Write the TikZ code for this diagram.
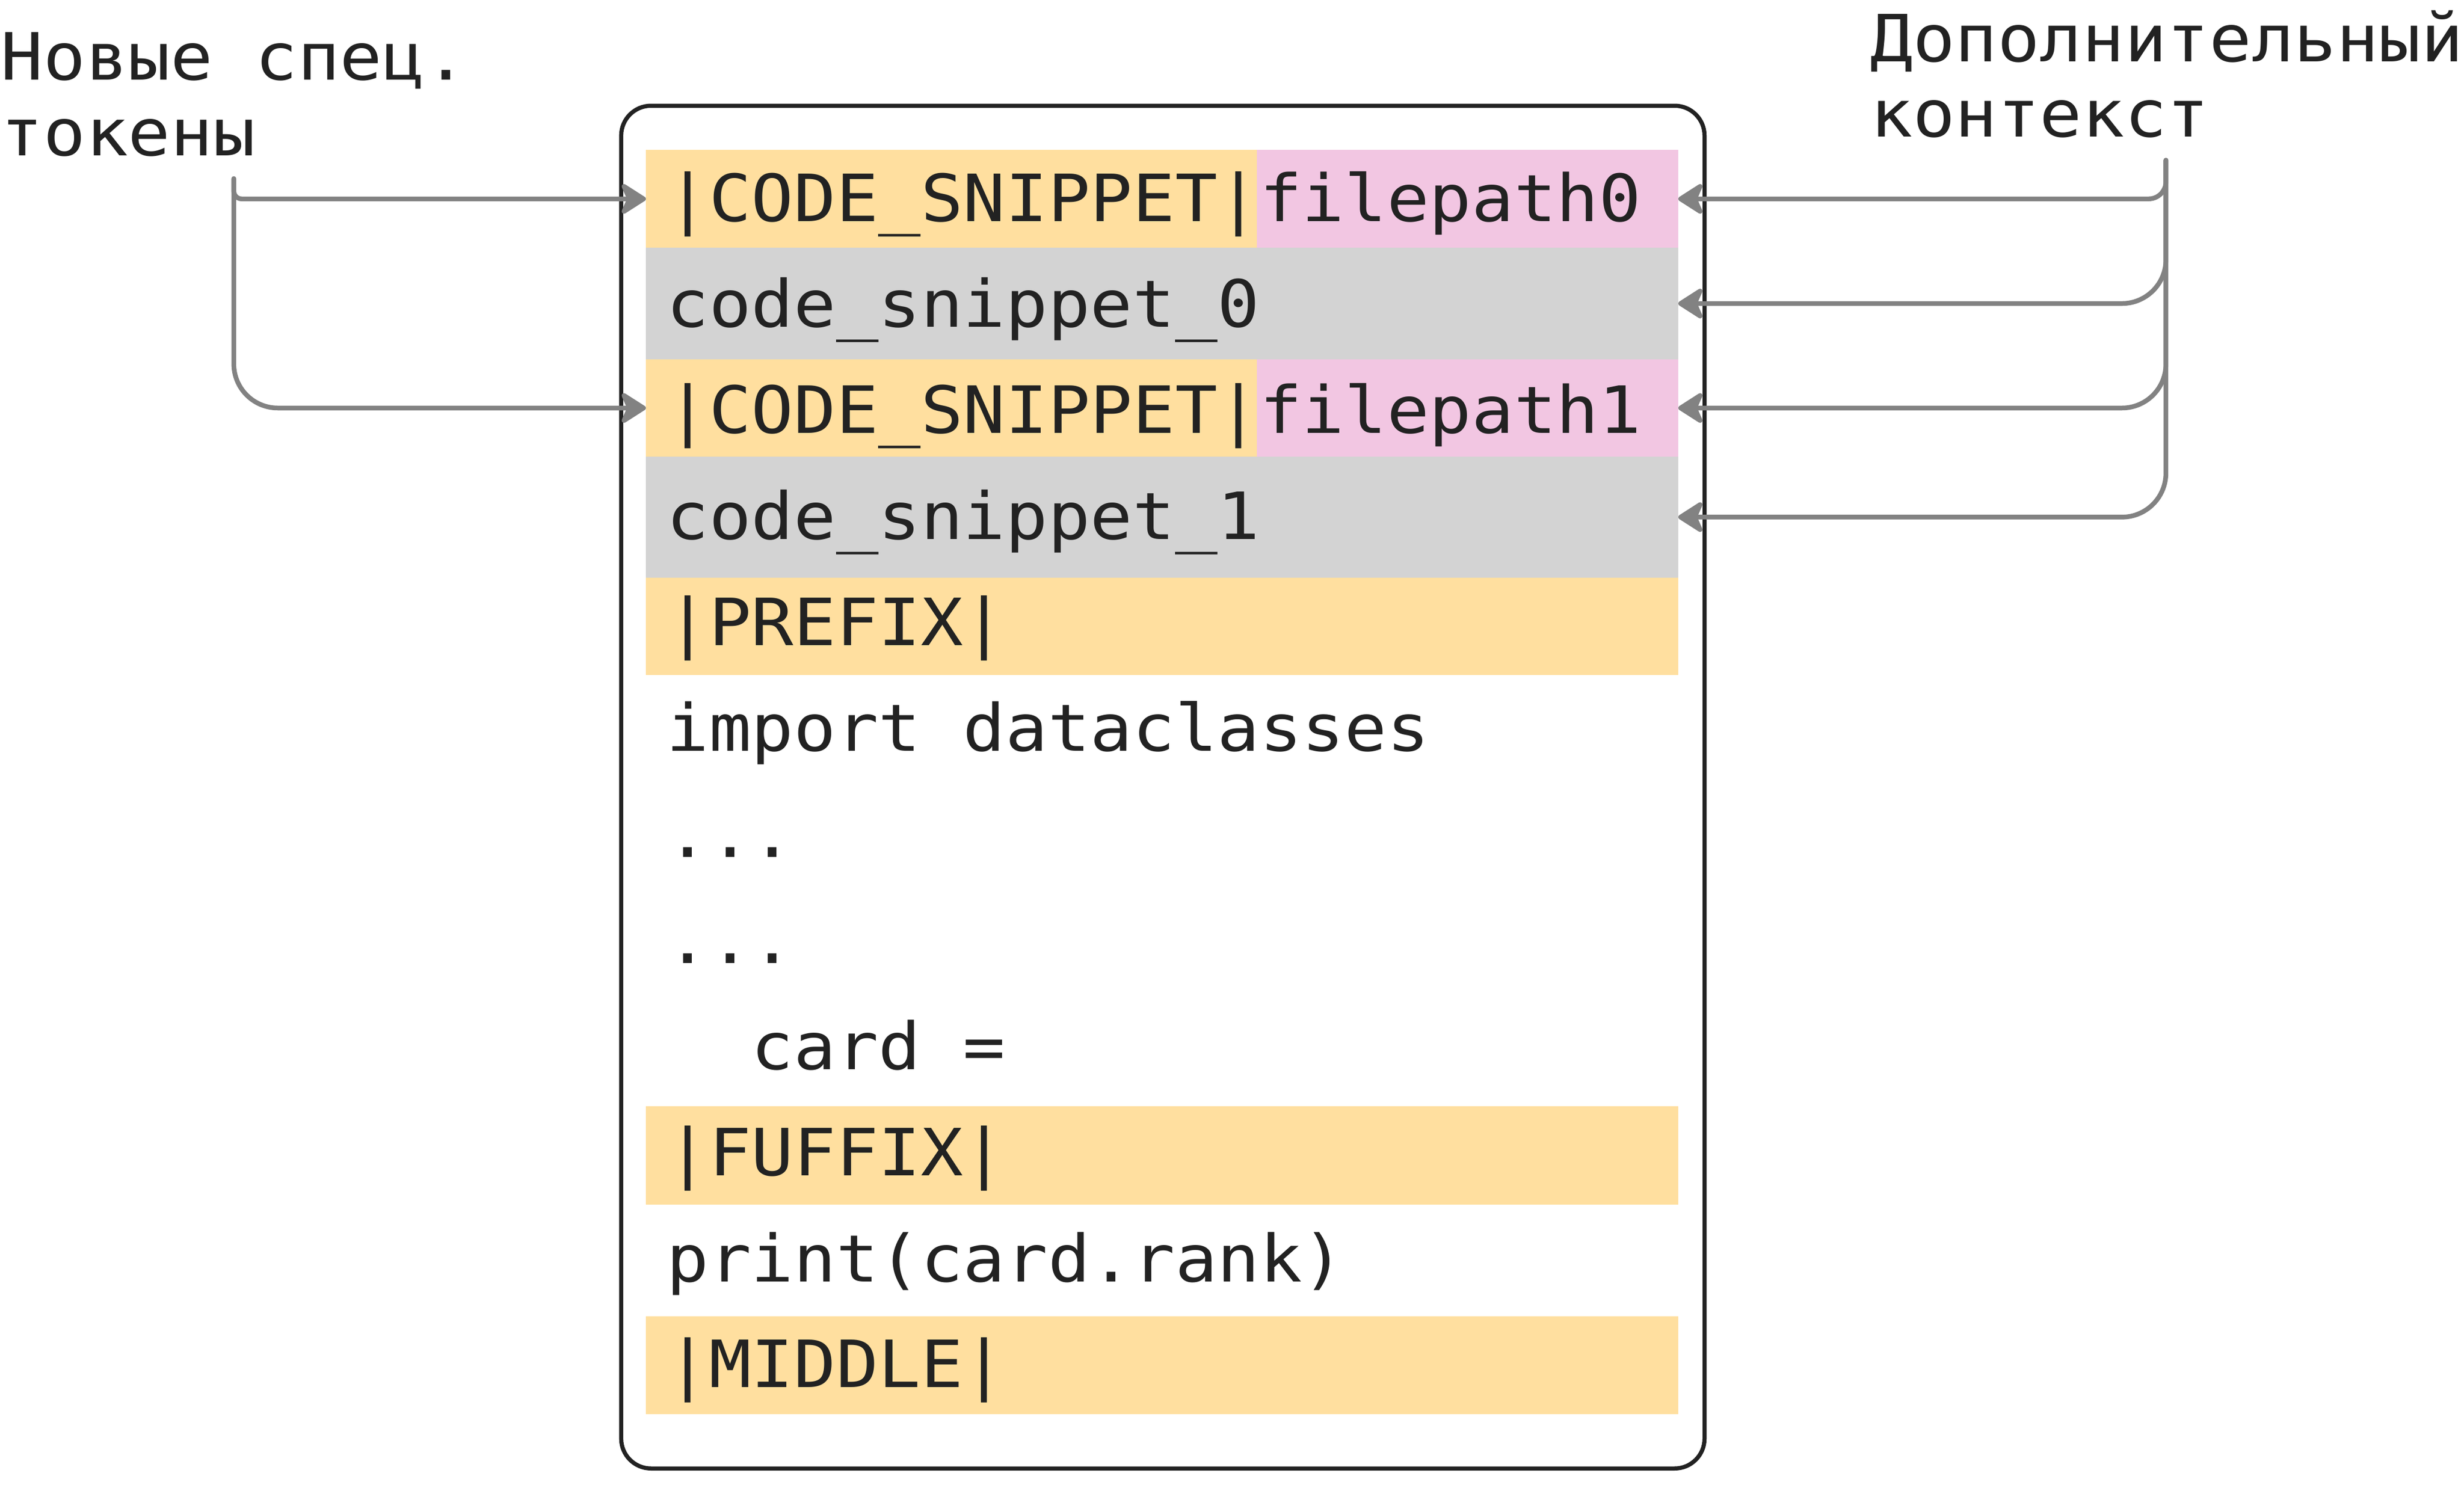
\documentclass[tikz,border=0pt]{standalone}
\usepackage{fontspec}
\usepackage{xcolor}
\usetikzlibrary{arrows.meta, positioning}
\newfontfamily\codefont{DejaVu Sans Mono}[FakeStretch=1.08]
\definecolor{tokorange}{HTML}{FFDF9F}
\definecolor{pathpink}{HTML}{F2C6E2}
\definecolor{snipgray}{HTML}{D3D3D3}
\definecolor{arrowgray}{HTML}{828282}
\definecolor{ink}{HTML}{222222}
\tikzset{
  row/.style={rectangle, inner sep=0pt, outer sep=0pt, anchor=north west},
  codeline/.style={anchor=base west, inner sep=0pt, text=ink, font=\codefont\fontsize{11.8}{14}\selectfont},
  feed/.style={-{Stealth[length=5.2pt, width=6.6pt, inset=1.4pt, round]}, color=arrowgray, line width=0.85pt, line cap=round}
}

\begin{document}
\begin{tikzpicture}[x=0.1mm, y=-0.1mm]
    \path[use as bounding box, fill=white] (0,0) rectangle (1568,949);

    \node[draw=ink, line width=0.75pt, rounded corners=1.9mm, inner sep=0pt,
          minimum width=68.94mm, minimum height=86.74mm] at (740,501) (frame) {};

    % highlighted rows
    \node[row, fill=tokorange, minimum width=38.9mm, minimum height=6.22mm] at (411,95.5)  (tok0) {};
    \node[row, fill=pathpink, minimum width=26.8mm, minimum height=6.22mm] at (800,95.5)  (path0) {};
    \node[row, fill=snipgray, minimum width=65.7mm, minimum height=7.1mm] at (411,157.7)  (snip0) {};
    \node[row, fill=tokorange, minimum width=38.9mm, minimum height=6.2mm] at (411,228.7) (tok1) {};
    \node[row, fill=pathpink, minimum width=26.8mm, minimum height=6.2mm] at (800,228.7)  (path1) {};
    \node[row, fill=snipgray, minimum width=65.7mm, minimum height=7.69mm] at (411,290.7) (snip1) {};
    \node[row, fill=tokorange, minimum width=65.7mm, minimum height=6.21mm] at (411,367.6) (prefix) {};
    \node[row, fill=tokorange, minimum width=65.7mm, minimum height=6.24mm] at (411,704.2) (fuffix) {};
    \node[row, fill=tokorange, minimum width=65.7mm, minimum height=6.2mm] at (411,838)    (middle) {};

    % code lines
    \node[codeline] at (423.5,140.8) (l0)  {|CODE\_SNIPPET|filepath0};
    \node[codeline] at (423.5,208.3) (l1)  {code\_snippet\_0};
    \node[codeline] at (423.5,275.7) (l2)  {|CODE\_SNIPPET|filepath1};
    \node[codeline] at (423.5,343.2) (l3)  {code\_snippet\_1};
    \node[codeline] at (423.5,410.7) (l4)  {|PREFIX|};
    \node[codeline] at (423.5,478.1) (l5)  {import dataclasses};
    \node[codeline] at (423.5,545.6) (l6)  {...};
    \node[codeline] at (423.5,613.1) (l7)  {...};
    \node[codeline] at (423.5,680.6) (l8)  {\phantom{cc}card =};
    \node[codeline] at (423.5,748.2) (l9)  {|FUFFIX|};
    \node[codeline] at (423.5,815.7) (l10) {print(card.rank)};
    \node[codeline] at (423.5,883.1) (l11) {|MIDDLE|};

    % labels
    \node[codeline] at (0,50.9)     (newtok)  {Новые спец.};
    \node[codeline] at (0,99)       (newtok2) {токены};
    \node[codeline] at (1189.5,39.3) (extra)  {Дополнительный};
    \node[codeline] at (1189.5,87)   (extra2) {контекст};

    \coordinate (tokfork) at (148.8,113.7);
    \coordinate (ctxfork) at (1378.3,102);

    \draw[feed, rounded corners=0.5mm] (tokfork) |- (tok0.west);
    \draw[feed, rounded corners=2.8mm] (tokfork) |- (tok1.west);
    \draw[feed, rounded corners=1.1mm] (ctxfork) |- (path0.east);
    \draw[feed, rounded corners=2.8mm] (ctxfork) |- (snip0.east);
    \draw[feed, rounded corners=2.8mm] (ctxfork) |- (path1.east);
    \draw[feed, rounded corners=2.8mm] (ctxfork) |- (snip1.east);
\end{tikzpicture}
\end{document}
